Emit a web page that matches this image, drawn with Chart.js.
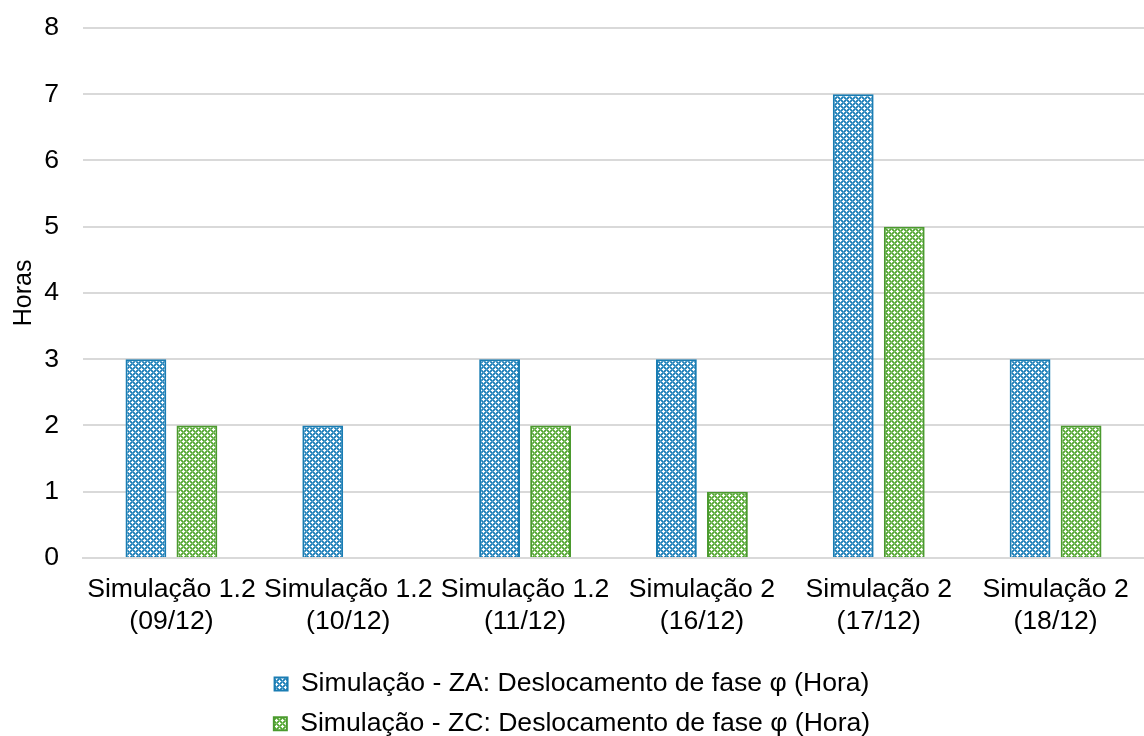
<!DOCTYPE html>
<html lang="pt">
<head>
<meta charset="UTF-8">
<title>Deslocamento de fase</title>
<script src="https://cdn.jsdelivr.net/npm/chart.js@4.4.9/dist/chart.umd.js"></script>
<style>
  html, body { margin: 0; padding: 0; background: #fff; }
  .chart-container { width: 1144px; height: 736px; position: relative; }
</style>
</head>
<body>
<div class="chart-container">
  <canvas id="chart"></canvas>
</div>
<script>
// data
const categories = [
  ['Simulação 1.2', '(09/12)'],
  ['Simulação 1.2', '(10/12)'],
  ['Simulação 1.2', '(11/12)'],
  ['Simulação 2', '(16/12)'],
  ['Simulação 2', '(17/12)'],
  ['Simulação 2', '(18/12)']
];
const zaValues = [3, 2, 3, 3, 7, 3];
const zcValues = [2, null, 2, 1, 5, 2];
const seriesNames = [
  'Simulação - ZA: Deslocamento de fase φ (Hora)',
  'Simulação - ZC: Deslocamento de fase φ (Hora)'
];

// small grid pattern with white crosses, like the Excel fill
function makePattern(dark, light) {
  const c = document.createElement('canvas');
  c.width = 6; c.height = 6;
  const g = c.getContext('2d');
  g.fillStyle = light;
  g.fillRect(0, 0, 6, 6);
  g.fillStyle = dark;
  [[1,2],[2,1],[4,5],[5,4],[1,4],[4,1],[2,5],[5,2]].forEach(p => g.fillRect(p[0], p[1], 1, 1));
  g.fillStyle = '#fff';
  [[0,0],[1,0],[5,0],[0,1],[0,5],[3,3],[2,3],[4,3],[3,2],[3,4]].forEach(p => g.fillRect(p[0], p[1], 1, 1));
  return g.createPattern(c, 'repeat');
}

const blue = '#1A7DB3';
const green = '#4B9A2E';
const bluePat = makePattern('#1A7DB3', '#4F9CCB');
const greenPat = makePattern('#4FA232', '#80C063');

const font = 'Liberation Sans, Arial, sans-serif';
const fontSize = 26.6;

new Chart(document.getElementById('chart'), {
  type: 'bar',
  data: {
    labels: categories,
    datasets: [
      {
        label: seriesNames[0],
        data: zaValues,
        backgroundColor: bluePat,
        borderColor: blue,
        borderWidth: 2,
        categoryPercentage: 0.577,
        barPercentage: 0.8
      },
      {
        label: seriesNames[1],
        data: zcValues,
        backgroundColor: greenPat,
        borderColor: green,
        borderWidth: 2,
        categoryPercentage: 0.577,
        barPercentage: 0.8
      }
    ]
  },
  options: {
    responsive: true,
    maintainAspectRatio: false,
    animation: false,
    layout: { padding: { top: 0, right: 0, left: 0, bottom: -11 } },
    plugins: {
      title: { display: false },
      tooltip: { enabled: false },
      legend: {
        position: 'bottom',
        labels: {
          color: '#000',
          font: { family: font, size: fontSize },
          boxWidth: 13,
          boxHeight: 13,
          padding: 13
        }
      }
    },
    scales: {
      x: {
        grid: { display: false },
        border: { color: '#d9d9d9', width: 2 },
        ticks: {
          color: '#000',
          font: { family: font, size: fontSize },
          maxRotation: 0,
          autoSkip: false,
          padding: 8
        },
        afterFit: function (scale) { scale.height += 12; }
      },
      y: {
        min: 0,
        max: 8,
        // invisible tick marks keep the labels off the plot; tick padding sets the top gap
        grid: { color: '#d9d9d9', lineWidth: 2, drawTicks: true, tickLength: 12, tickColor: 'rgba(0,0,0,0)' },
        border: { display: false },
        ticks: {
          stepSize: 1,
          color: '#000',
          font: { family: font, size: fontSize },
          padding: 12
        },
        title: {
          display: true,
          text: 'Horas',
          color: '#000',
          font: { family: font, size: 25 },
          padding: { top: 9, bottom: 0 }
        },
        afterFit: function (scale) { scale.width = 83; }
      }
    }
  }
});
</script>
</body>
</html>
